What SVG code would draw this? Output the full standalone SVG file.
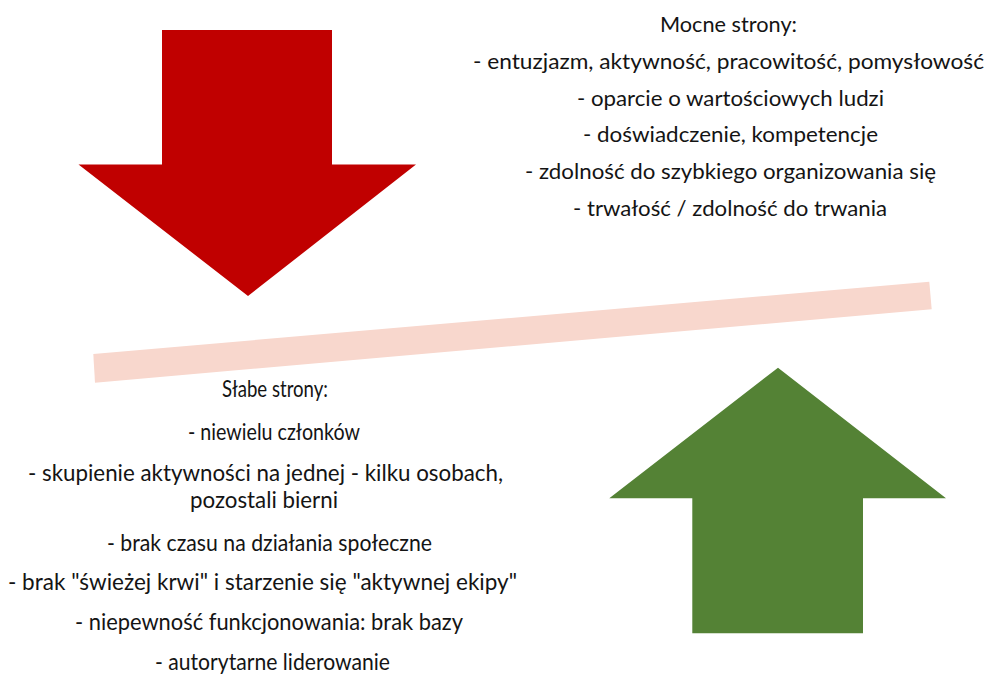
<svg xmlns="http://www.w3.org/2000/svg" width="987" height="675" viewBox="0 0 987 675">
<style>
.t{font-family:Lato,"Open Sans","Liberation Sans",sans-serif;fill:#141414;text-anchor:middle}
.s{font-size:21px}
.w{font-size:23px}
</style>
<rect width="987" height="675" fill="#ffffff"/>
<g id="arrow-down">
<polygon points="162,30 332,30 332,164.5 416,164.5 248,296 78.5,164.5 162,164.5" fill="#C00000"/>
</g>
<g id="bar">
<polygon points="93.3,354 929.3,281.7 931.7,309.3 95,382.7" fill="#F8D7CD"/>
</g>
<g id="arrow-up">
<polygon points="778,367.7 946,498.3 863,498.3 863,633.3 692.3,633.3 692.3,498.3 609.3,498.3" fill="#548235"/>
</g>
<g id="strengths">
<text class="t s" x="728.5" y="32" textLength="137" lengthAdjust="spacingAndGlyphs">Mocne strony:</text>
<text class="t s" x="728.5" y="69" textLength="511" lengthAdjust="spacingAndGlyphs">- entuzjazm, aktywność, pracowitość, pomysłowość</text>
<text class="t s" x="730.5" y="106" textLength="307" lengthAdjust="spacingAndGlyphs">- oparcie o wartościowych ludzi</text>
<text class="t s" x="730.5" y="142" textLength="295" lengthAdjust="spacingAndGlyphs">- doświadczenie, kompetencje</text>
<text class="t s" x="730.5" y="179" textLength="411" lengthAdjust="spacingAndGlyphs">- zdolność do szybkiego organizowania się</text>
<text class="t s" x="730" y="216" textLength="314" lengthAdjust="spacingAndGlyphs">- trwałość / zdolność do trwania</text>
</g>
<g id="weaknesses">
<text class="t w" x="275" y="397" textLength="106" lengthAdjust="spacingAndGlyphs">Słabe strony:</text>
<text class="t w" x="274" y="440" textLength="172" lengthAdjust="spacingAndGlyphs">- niewielu członków</text>
<text class="t w" x="265.5" y="481" textLength="475" lengthAdjust="spacingAndGlyphs">- skupienie aktywności na jednej - kilku osobach,</text>
<text class="t w" x="264" y="508" textLength="148" lengthAdjust="spacingAndGlyphs">pozostali bierni</text>
<text class="t w" x="269.5" y="551" textLength="325" lengthAdjust="spacingAndGlyphs">- brak czasu na działania społeczne</text>
<text class="t w" x="262.5" y="590" textLength="509" lengthAdjust="spacingAndGlyphs">- brak "świeżej krwi" i starzenie się "aktywnej ekipy"</text>
<text class="t w" x="269" y="630" textLength="388" lengthAdjust="spacingAndGlyphs">- niepewność funkcjonowania: brak bazy</text>
<text class="t w" x="272.5" y="670" textLength="235" lengthAdjust="spacingAndGlyphs">- autorytarne liderowanie</text>
</g>
</svg>
